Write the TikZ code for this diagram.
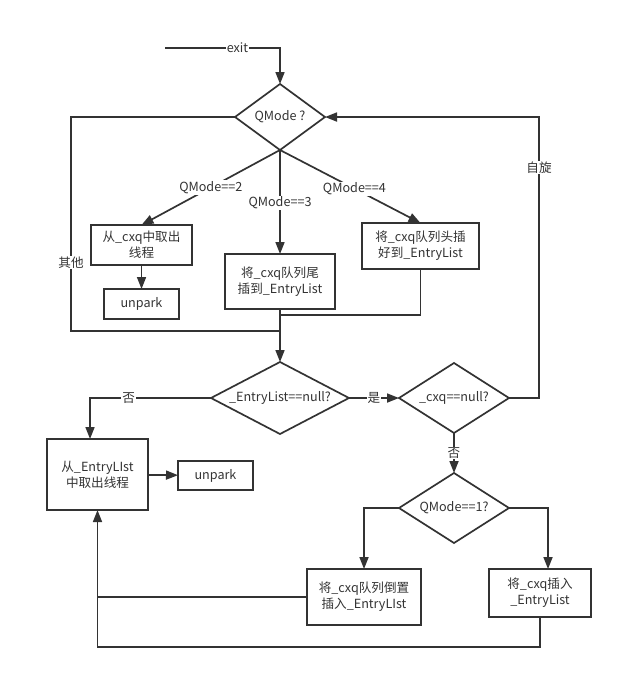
\documentclass[tikz,border=0pt]{standalone}
\usepackage{fontspec}
\newfontfamily\cjk{Noto Sans CJK SC}
\usetikzlibrary{shapes.geometric,arrows.meta}
\definecolor{ink}{HTML}{333333}
\begin{document}
\begin{tikzpicture}[x=1pt, y=-1pt,
    every node/.style={font=\cjk\fontsize{12.6}{16}\selectfont, text=ink},
    box/.style={draw=ink, line width=1.7pt, align=center, inner sep=0pt, outer sep=0pt},
    decision/.style={draw=ink, diamond, line width=1.7pt, inner sep=0pt, outer sep=0pt},
    lbl/.style={fill=white, inner sep=1pt},
    line/.style={draw=ink, line width=1.7pt},
    arr/.style={line, -{Triangle[length=12pt,width=9pt]}}]

    \useasboundingbox (0,0) rectangle (621,678);

    %% Upper part: QMode dispatch
    \node[decision, minimum width=90, minimum height=66, label=center:{QMode ?}] (q) at (280,117) {};

    % Boxes for QMode==2,3,4
    \node[box, minimum width=101, minimum height=40] (take) at (141.5,245) {从\_cxq中取出\\线程};
    \node[box, minimum width=75, minimum height=30] (unparkA) at (141.5,304) {unpark};
    \node[box, minimum width=110, minimum height=55] (tail) at (280,281.5) {将\_cxq队列尾\\插到\_EntryList};
    \node[box, minimum width=117, minimum height=46] (head) at (420.5,246) {将\_cxq队列头插\\好到\_EntryList};

    %% Lower part: EntryList and cxq
    \node[decision, minimum width=138, minimum height=72, label=center:{\_EntryList==null?}] (entry) at (280,398) {};
    \node[decision, minimum width=110, minimum height=70, label=center:{\_cxq==null?}] (cxq) at (454,398) {};
    \node[decision, minimum width=110, minimum height=70, label=center:{QMode==1?}] (qone) at (454,508) {};

    \node[box, minimum width=101, minimum height=71] (takeE) at (97.5,474.5) {从\_EntryLIst\\中取出线程};
    \node[box, minimum width=75, minimum height=29] (unparkB) at (215.5,475.5) {unpark};
    \node[box, minimum width=114, minimum height=56] (rev) at (364,597) {将\_cxq队列倒置\\插入\_EntryLIst};
    \node[box, minimum width=102, minimum height=48] (ins) at (540,593) {将\_cxq插入\\\_EntryList};

    % Free ends and corners
    \coordinate (start) at (165,48);
    \coordinate (joinL) at (280,331);
    \coordinate (turnL) at (71,331);
    \coordinate (joinH) at (280,315);
    \coordinate (spin) at (539,117);
    \coordinate (back) at (97.5,647);

    % Entry
    \draw[arr] (start) -- node[lbl, pos=0.63] {exit} (start -| q.north) -- (q.north);

    % Other modes loop
    \draw[line] (q.west) -| node[lbl, pos=0.84] {其他} (turnL) -- (joinL);

    % QMode branches
    \draw[arr] (q.south) -- node[lbl] {QMode==2} (take.north);
    \draw[arr] (q.south) -- node[lbl, pos=0.51] {QMode==3} (tail.north);
    \draw[arr] (q.south) -- node[lbl, pos=0.53] {QMode==4} (head.north);
    \draw[arr] (take) -- (unparkA);
    \draw[line] (head.south) |- (joinH);
    \draw[arr] (tail.south) -- (entry.north);

    % EntryList check
    \draw[arr] (entry.west) -| node[lbl, pos=0.34] {否} ([xshift=-7.5pt]takeE.north);
    \draw[arr] (takeE) -- (unparkB);
    \draw[arr] (entry.east) -- node[lbl] {是} (cxq.west);

    % Spin back to QMode
    \draw[arr] (cxq.east) -| node[lbl, pos=0.91] {自旋} (spin) -- (q.east);

    % cxq not empty
    \draw[arr] (cxq.south) -- node[lbl] {否} (qone.north);
    \draw[arr] (qone.west) -| (rev.north);
    \draw[arr] (qone.east) -| ([xshift=8pt]ins.north);

    % Back to EntryList
    \draw[line] (rev.west) -- (rev.west -| takeE.south);
    \draw[arr] (ins.south) |- (back) -- (takeE.south);

\end{tikzpicture}
\end{document}
